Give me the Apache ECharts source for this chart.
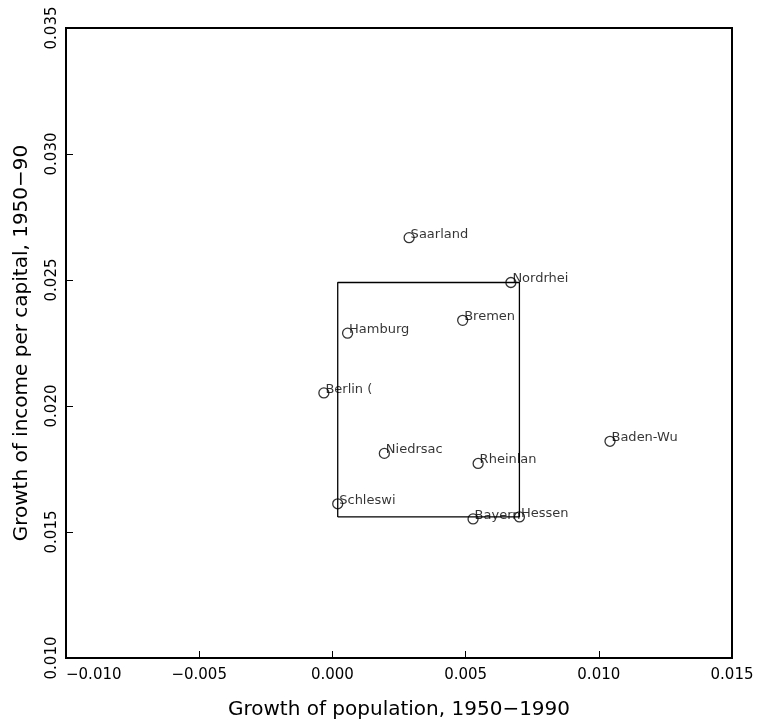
<!DOCTYPE html>
<html>
<head>
<meta charset="utf-8">
<script src="https://cdn.jsdelivr.net/npm/echarts@6/dist/echarts.min.js"></script>
<style>
html,body{margin:0;padding:0;background:#fff;}
#chart{width:762px;height:725px;}
</style>
</head>
<body>
<div id="chart"></div>
<script>
// Data
const states = ['Saarland','Nordrhei','Bremen','Hamburg','Berlin (','Niedrsac','Rheinlan','Baden-Wu','Schleswi','Bayern','Hessen'];
const popGrowth = [0.00288, 0.00670, 0.00489, 0.00057, -0.00032, 0.00195, 0.00547, 0.01042, 0.00020, 0.00528, 0.00702];
const incomeGrowth = [0.02668, 0.02490, 0.02340, 0.02289, 0.02052, 0.01812, 0.01772, 0.01860, 0.01612, 0.01552, 0.01560];
// Bounding rectangle corners (x range, y range)
const boxX = [0.00020, 0.00702];
const boxY = [0.01560, 0.02490];
// Axis settings
const xTicks = {min: -0.010, max: 0.015, step: 0.005};
const yTicks = {min: 0.010, max: 0.035, step: 0.005};
const xTitle = 'Growth of population, 1950\u22121990';
const yTitle = 'Growth of income per capital, 1950\u221290';

const FONT = 'DejaVu Sans';
const fmt = v => v.toFixed(3).replace('-', '\u2212');

const points = states.map((s, i) => ({name: s, value: [popGrowth[i], incomeGrowth[i]]}));
const boxPath = [
  [boxX[0], boxY[0]], [boxX[1], boxY[0]], [boxX[1], boxY[1]], [boxX[0], boxY[1]], [boxX[0], boxY[0]]
];

const chart = echarts.init(document.getElementById('chart'), null, {renderer: 'canvas'});
chart.setOption({
  animation: false,
  backgroundColor: '#fff',
  grid: {left: 66, right: 30, top: 28, bottom: 63, show: true, borderColor: '#000', borderWidth: 2, containLabel: false},
  xAxis: {
    type: 'value', min: xTicks.min, max: xTicks.max, interval: xTicks.step,
    name: xTitle, nameLocation: 'middle', nameGap: 42,
    nameTextStyle: {fontFamily: FONT, fontSize: 20, color: '#000', verticalAlign: 'top'},
    axisLine: {show: true, onZero: false, lineStyle: {color: '#000', width: 2}},
    axisTick: {show: true, inside: true, length: 7, lineStyle: {color: '#000', width: 1}},
    axisLabel: {fontFamily: FONT, fontSize: 15, color: '#000', margin: 10, formatter: fmt, alignMinLabel: 'left'},
    splitLine: {show: false}
  },
  yAxis: {
    type: 'value', min: yTicks.min, max: yTicks.max, interval: yTicks.step,
    name: yTitle, nameLocation: 'middle', nameGap: 34, nameRotate: 90,
    nameTextStyle: {fontFamily: FONT, fontSize: 20, color: '#000'},
    axisLine: {show: true, onZero: false, lineStyle: {color: '#000', width: 2}},
    axisTick: {show: true, inside: true, length: 7, lineStyle: {color: '#000', width: 1}},
    axisLabel: {fontFamily: FONT, fontSize: 15, color: '#000', margin: 6, rotate: 90, formatter: fmt},
    splitLine: {show: false}
  },
  series: [
    {
      type: 'line', data: boxPath, symbol: 'none', silent: true,
      lineStyle: {color: '#000', width: 1.3}
    },
    {
      type: 'scatter', data: points, symbol: 'circle', symbolSize: 10,
      itemStyle: {color: 'rgba(0,0,0,0)', borderColor: '#000', borderWidth: 1.3},
      label: {
        show: true, position: 'inside', align: 'left', verticalAlign: 'middle',
        offset: [1.5, -3.5], formatter: p => p.name,
        fontFamily: FONT, fontSize: 13, color: '#000',
        textBorderWidth: 0, textBorderColor: 'transparent'
      }
    }
  ]
});
</script>
</body>
</html>
